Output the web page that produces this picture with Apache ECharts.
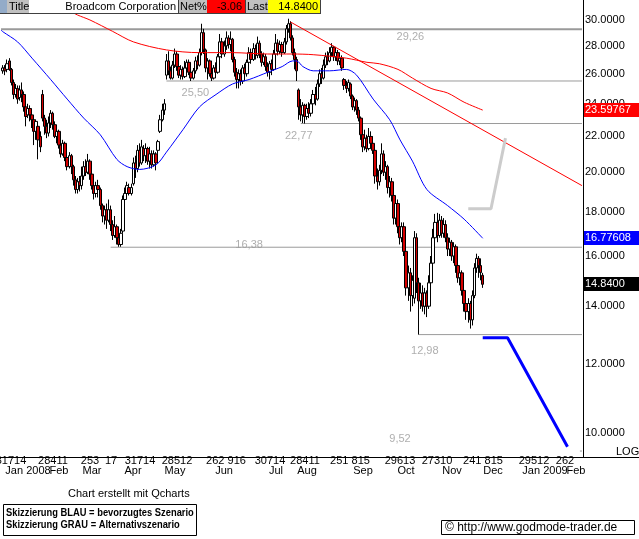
<!DOCTYPE html>
<html><head><meta charset="utf-8">
<script src="https://cdn.jsdelivr.net/npm/echarts@6/dist/echarts.min.js"></script>
<style>html,body{margin:0;padding:0;background:#fff}#c{width:639px;height:539px}</style>
</head><body><div id="c"></div>
<script>
// ---------------- DATA ----------------
const slotCount = 282;          // daily slots on the category axis (incl. future space)
const firstCandleSlot = 1;
// daily candles: [open, close, low, high]
const candles = [
[26.2,26.4,26.0,26.6],[26.4,26.2,25.9,26.6],[26.3,26.7,26.1,27.0],[26.9,26.3,26.2,27.1],[26.3,25.4,25.2,26.4],
[25.4,24.6,24.3,25.6],[24.6,25.0,24.4,25.3],[25.0,24.3,24.0,25.2],[24.4,24.9,24.2,25.2],[24.9,24.6,24.1,25.4],
[24.6,23.8,23.5,24.8],[23.8,23.2,22.6,23.9],[23.3,23.7,23.1,24.0],[23.7,23.3,22.9,23.9],[23.3,23.0,22.5,23.6],
[23.0,22.3,21.5,23.1],[22.3,22.9,21.8,23.0],[22.6,21.8,20.7,22.8],[22.0,21.4,21.1,22.3],[24.6,23.1,22.9,24.9],
[23.1,22.6,22.1,23.3],[22.6,22.2,21.9,23.0],[22.2,22.8,22.0,23.2],[22.8,23.4,22.5,23.6],[23.4,22.7,22.4,23.5],
[22.7,22.0,21.9,22.9],[22.0,22.3,21.6,22.5],[22.3,21.5,21.3,22.4],[21.5,21.0,20.8,21.8],[21.0,21.6,20.9,21.8],
[21.6,20.8,20.6,21.7],[20.8,20.3,20.1,21.0],[20.3,20.9,20.2,21.1],[20.9,20.3,19.9,21.0],[20.3,19.6,19.3,20.4],
[19.6,19.1,18.9,19.8],[19.1,19.5,18.9,19.7],[19.5,19.3,19.0,19.8],[19.3,19.8,19.1,20.3],[19.8,20.3,19.6,20.6],
[20.3,20.0,19.8,20.7],[20.0,20.6,19.9,21.0],[20.6,19.9,19.6,20.7],[19.9,19.3,19.1,20.0],[19.3,18.9,18.6,19.5],
[18.9,19.3,18.7,19.5],[19.3,19.1,18.7,19.6],[19.1,18.3,18.1,19.2],[18.3,17.8,17.5,18.4],[17.8,18.1,17.4,18.3],
[18.1,17.6,17.2,18.4],[17.6,18.1,17.5,18.6],[18.1,17.4,17.1,18.3],[17.4,16.9,16.7,17.6],[16.9,17.3,16.8,17.8],
[17.3,16.8,16.5,17.4],[16.8,16.5,16.4,16.9],[16.5,17.0,16.4,17.2],[17.1,18.6,17.0,18.8],[18.6,18.9,18.5,19.2],
[18.9,19.3,18.7,19.5],[19.2,18.9,18.8,19.4],[18.9,19.2,18.8,19.4],[19.4,20.5,19.3,20.8],[20.5,20.2,19.7,20.9],
[20.2,21.2,20.0,21.5],[21.2,20.5,20.3,21.6],[20.5,21.4,20.4,21.8],[21.3,20.9,20.6,21.5],[20.9,21.3,20.5,21.6],
[21.3,20.6,20.4,21.4],[20.6,21.0,20.2,21.4],[21.0,20.4,20.2,21.2],[20.4,21.0,20.3,21.2],[21.0,20.5,20.1,21.1],
[21.2,21.7,21.0,21.8],[22.3,23.0,22.2,23.3],[23.0,23.6,22.9,24.0],[23.6,24.0,23.3,24.3],
// slots 80-143: trading range below 29.26
[25.9,26.9,25.6,27.4],[26.9,26.2,25.9,27.6],[26.2,25.7,25.6,26.5],[25.7,26.6,25.6,26.9],[26.6,27.4,26.4,27.8],
[27.4,26.5,26.2,27.6],[26.5,25.9,25.7,26.7],[25.9,26.3,25.6,26.6],[26.3,25.8,25.6,26.5],[25.8,26.4,25.7,26.9],
[26.4,26.8,26.1,27.0],[26.8,26.1,25.9,27.0],[26.1,25.7,25.5,26.3],[25.7,26.2,25.6,26.4],[26.2,26.9,26.0,27.2],
[26.9,26.6,26.3,27.3],[26.6,27.5,26.5,27.8],[27.5,29.0,27.3,29.7],[29.0,27.7,27.4,29.3],[27.7,26.4,26.1,27.8],
[26.4,26.9,25.6,27.1],[26.9,26.0,25.8,27.0],[26.0,25.7,25.5,26.3],[25.7,26.4,25.6,26.6],[26.4,26.1,25.8,26.8],
[26.1,27.2,26.0,27.4],[27.2,28.3,27.0,28.9],[28.3,27.4,27.1,28.6],[27.4,28.0,27.2,28.4],[28.0,28.6,27.7,29.1],
[28.6,28.1,27.8,28.8],[28.1,28.5,27.6,29.1],[28.5,27.0,26.8,28.6],[27.0,26.1,25.8,27.2],[26.1,25.6,25.0,26.4],
[25.6,26.0,25.0,26.3],[26.0,25.5,25.2,26.3],[25.5,26.4,25.3,26.6],[26.4,26.0,25.7,26.7],[26.0,26.8,25.8,27.0],
[26.8,27.5,26.6,27.9],[27.5,27.0,26.7,27.8],[27.0,27.8,26.9,28.2],[27.8,27.3,27.0,28.1],[27.3,28.2,27.1,28.7],
[28.2,27.4,27.1,28.4],[27.4,26.8,26.5,27.6],[26.8,27.2,26.6,27.5],[27.2,26.5,26.2,27.4],[26.5,26.1,25.8,26.8],
[26.1,26.7,25.6,26.9],[26.7,26.3,25.9,27.0],[26.3,27.4,26.2,27.7],[27.4,28.2,27.2,28.9],[28.2,27.6,27.3,28.5],
[27.6,28.1,27.4,28.4],[28.1,27.5,27.2,28.3],[27.5,28.3,27.4,28.6],[28.3,29.3,28.1,29.6],[29.3,29.7,29.0,30.1],
[29.7,28.6,28.4,29.9],[28.6,27.5,27.3,28.8],[27.5,27.0,26.3,27.8],[27.0,26.2,25.5,27.2],
// slots 144-165: gap down, rebound to 28.2
[24.9,23.8,23.0,25.0],[23.8,23.3,22.9,24.3],[23.3,23.9,22.8,24.1],[23.9,23.2,22.77,24.0],[23.2,23.7,23.0,24.0],
[23.7,23.4,23.1,24.1],[23.4,24.0,23.2,24.3],[24.0,24.6,23.8,24.9],[24.6,24.3,23.9,25.1],[24.3,25.3,24.2,25.6],
[25.3,26.0,25.1,26.3],[26.0,25.7,25.3,26.4],[25.7,26.6,25.6,27.0],[26.6,27.2,26.4,27.5],[27.2,26.9,26.6,27.6],
[26.9,27.5,26.8,27.9],[27.5,27.9,27.2,28.2],[27.9,27.2,26.9,28.0],[27.2,27.5,26.9,27.8],[27.5,26.9,26.6,27.7],
[26.9,27.1,26.6,27.4],[27.1,26.4,26.2,27.3],
// slots 166-202: sell-off
[25.6,25.2,24.9,25.7],[25.2,25.0,24.7,25.5],[25.0,25.4,24.8,25.6],[25.3,24.5,24.3,25.4],[24.5,23.8,23.6,24.6],
[23.8,24.2,23.5,24.4],[24.2,23.6,23.3,24.3],[23.6,23.1,22.9,23.8],[23.1,22.1,21.8,23.2],[22.1,21.4,21.1,22.3],
[21.4,21.9,21.2,22.4],[21.9,21.3,21.1,22.1],[21.3,22.0,21.2,22.5],[22.0,21.6,21.3,22.3],[21.6,21.2,21.0,22.0],
[21.2,19.8,19.4,21.3],[19.8,19.5,19.1,20.2],[19.5,20.1,19.3,20.4],[20.1,21.0,19.9,21.6],[21.0,20.0,19.8,21.2],
[20.0,20.3,19.6,20.6],[20.3,19.2,18.9,20.4],[19.2,19.5,18.7,19.8],[19.5,18.8,18.5,19.7],[18.8,17.7,17.4,18.9],
[17.7,18.4,17.4,18.6],[18.4,17.3,17.0,18.6],[17.3,16.8,16.5,17.6],[16.8,17.3,16.6,17.5],[17.3,16.2,16.0,17.5],
[16.2,14.7,14.4,16.4],[14.7,15.3,14.2,15.6],[15.3,14.4,13.8,15.5],[14.4,15.0,14.0,15.2],[14.3,16.8,14.1,17.1],
[16.8,14.9,14.5,17.0],[14.9,14.2,12.98,15.1],
// slots 203-233: bottoming
[14.2,14.5,13.9,14.9],[14.5,14.0,13.8,14.8],[14.0,14.5,13.7,14.7],[14.5,14.0,13.6,14.6],[14.0,14.9,13.9,15.2],
[14.9,15.7,14.8,16.0],[15.7,16.8,15.5,17.2],[16.8,17.5,16.6,17.9],[17.5,16.9,16.6,17.95],[16.9,17.6,16.8,17.9],
[17.6,17.0,16.8,17.8],[17.0,17.4,16.8,17.7],[17.4,16.8,16.6,17.6],[16.8,16.3,16.0,17.0],[16.3,16.6,16.0,16.8],
[16.6,16.0,15.8,16.7],[16.0,16.4,15.7,16.6],[16.4,15.6,15.3,16.5],[15.6,15.1,14.9,15.8],[15.1,15.3,14.8,15.5],
[15.3,14.6,14.4,15.4],[14.6,14.1,13.8,14.8],[14.1,13.8,13.5,14.4],[13.8,14.1,13.4,14.3],[14.1,13.5,13.19,14.2],
[13.5,14.4,13.3,14.6],[14.4,15.5,14.3,15.7],[15.5,15.9,15.3,16.1],[15.9,15.6,15.1,16.0],[15.6,15.31,15.0,15.9],
[15.2,14.84,14.7,15.3]
];
// 50-day moving average (blue), [slot, value]
const ma50 = [[0,29.2],[1,29.06],[8,28.3],[15,27.1],[24,25.6],[32,24.3],[40,23.1],[48,22.1],[56,20.7],[61,20.3],
  [67,20.15],[75,20.4],[80,21.1],[88,22.4],[96,23.8],[104,24.6],[112,25.3],[120,25.6],[129,26.1],[136,26.5],
  [141,26.9],[143,26.9],[146,26.5],[151,26.2],[159,26.2],[167,26.3],[172,25.9],[180,24.3],[188,23.0],[193,21.8],
  [199,20.6],[206,19.1],[216,18.3],[224,17.65],[233,16.77608]];
// 200-day moving average (red), [slot, value]
const ma200 = [[30,31.0],[37,30.4],[43,30.0],[54,29.1],[64,28.3],[80,27.7],[96,27.5],[112,27.5],[129,27.4],[141,27.4],
  [151,27.35],[167,27.1],[177,26.8],[183,26.7],[192,26.3],[199,25.7],[208,25.0],[216,24.7],[224,24.1],[233,23.59767]];
// red down trend line
const trendLine = [[140,29.84],[281,19.3]];
// horizontal support / resistance levels
const levelValues = [29.26, 25.50, 22.77, 16.38, 12.98, 9.52];
const levelLabels = ['29,26','25,50','22,77','16,38','12,98','9,52'];
const levelStartSlots = [0, 80, 145, 53, 202, 280];
// scenario sketches
const blueScenario = [[233,12.87],[245,12.87],[274,9.63]];
const grayScenario = [[226,18.15],[237,18.15],[244,21.9]];
// right axis ticks
const priceTicks = [10,12,14,16,18,20,22,24,26,28,30];
// x axis tick labels (slot, text)
const dayLabelSlots = [5,25,43,53,67,85,109,130,147,169,193,211,233,258,273];
const dayLabelTexts = ['31714','28411','253','17','31714','28512','262 916','30714','28411','251 815','29613','27310','241 815','29512','262'];
const monthLabelSlots = [13,28,44,64,84,108,133,148,175,196,218,238,263,278];
const monthLabelTexts = ['Jan 2008','Feb','Mar','Apr','May','Jun','Jul','Aug','Sep','Oct','Nov','Dec','Jan 2009','Feb'];
// last values shown in boxes
const lastMa200 = 23.59767, lastMa50 = 16.77608, lastClose = 14.84;
const netPct = '-3.06';
const title = 'Broadcom Corporation';

// ---------------- CHART ----------------
const FONT = 'Liberation Sans, Arial, sans-serif';
const L = Math.log;
const slots = Array.from({length: slotCount}, (_, i) => String(i));
const lnPts = arr => arr.map(p => [p[0], L(p[1])]);

const chart = echarts.init(document.getElementById('c'), null, {renderer: 'canvas'});
const yMin = L(9.37), yMax = L(30.48);

const series = [];
series.push({
  type: 'candlestick', name: 'BRCM',
  data: candles.map((r, i) => [firstCandleSlot + i, L(r[0]), L(r[1]), L(r[2]), L(r[3])]),
  encode: {x: 0, y: [1, 2, 3, 4]},
  barWidth: 3,
  itemStyle: {color: '#ffffff', color0: '#d40000', borderColor: '#000000', borderColor0: '#000000', borderWidth: 1},
  z: 3
});
levelValues.forEach((v, i) => {
  series.push({
    type: 'line', data: [[levelStartSlots[i], L(v)], [slotCount - 1, L(v)]],
    symbol: 'none', silent: true,
    lineStyle: {color: '#9a9a9a', width: i === 0 ? 2 : 1}, z: 2
  });
});
// level labels
const levelLabelAnchors = [[198, 28.67], [94, 24.7], [144, 22.0], [120, 16.5], [205, 12.44], [193, 9.83]];
series.push({
  type: 'scatter', symbolSize: 0, silent: true,
  data: levelLabelAnchors.map((a, i) => ({value: [a[0], L(a[1])], label: {formatter: levelLabels[i]}})),
  label: {show: true, position: 'inside', color: '#9a9a9a', fontSize: 11, fontFamily: FONT},
  z: 2
});
series.push({type: 'line', data: lnPts(ma200), symbol: 'none', smooth: 0.3, lineStyle: {color: '#ff0000', width: 1}, z: 4});
series.push({type: 'line', data: lnPts(ma50), symbol: 'none', smooth: 0.3, lineStyle: {color: '#0000ff', width: 1}, z: 4});
series.push({type: 'line', data: lnPts(trendLine), symbol: 'none', lineStyle: {color: '#ff0000', width: 1}, z: 4});
series.push({type: 'line', data: lnPts(grayScenario), symbol: 'none', lineStyle: {color: '#cccccc', width: 3}, z: 4});
series.push({type: 'line', data: lnPts(blueScenario), symbol: 'none', lineStyle: {color: '#0000ff', width: 3}, z: 4});

chart.setOption({
  animation: false,
  backgroundColor: '#ffffff',
  grid: {left: 0, right: 56, top: 14, bottom: 82, containLabel: false},
  xAxis: {type: 'category', data: slots, boundaryGap: true, position: 'bottom',
     axisLine: {show: true, lineStyle: {color: '#000', width: 1}}, axisTick: {show: false}, splitLine: {show: false},
     axisLabel: {show: false}},
  yAxis: {
    type: 'value', position: 'right', min: yMin, max: yMax, scale: true,
    axisLine: {show: true, lineStyle: {color: '#000', width: 1}}, axisTick: {show: false}, splitLine: {show: false},
    axisLabel: {customValues: priceTicks.map(L), margin: 2, color: '#000', fontSize: 11, fontFamily: FONT,
      padding: [4, 0, 0, 0], formatter: v => Math.exp(v).toFixed(4)}
  },
  series: series
});

const xOf = s => chart.convertToPixel({xAxisIndex: 0}, s);
const yOf = v => chart.convertToPixel({yAxisIndex: 0}, L(v));
const txt = (x, y, text, opt, extra) => Object.assign({type: 'text', x: x, y: y, z: 100,
  style: Object.assign({text: text, font: '11px ' + FONT, fill: '#000', verticalAlign: 'middle'}, opt || {})}, extra || {});
const rect = (x, y, w, h, fill, opt) => Object.assign({type: 'rect', z: 99, shape: {x: x, y: y, width: w, height: h},
  style: {fill: fill}}, opt || {});
const line = (x1, y1, x2, y2, color) => ({type: 'line', z: 99, shape: {x1: x1, y1: y1, x2: x2, y2: y2},
  style: {stroke: color, lineWidth: 1}});

const graphic = [
  // header bar
  rect(0, 0, 7, 13, '#93abc8'),
  rect(7, 0, 22, 13, '#c0c0c0'),
  txt(9, 7, 'Title'),
  txt(176, 7, title, {align: 'right'}),
  rect(178, 0, 29, 13, '#c0c0c0'),
  txt(180, 7, 'Net%'),
  rect(207, 0, 38, 13, '#ff0000'),
  txt(242, 7, netPct, {align: 'right'}),
  rect(245, 0, 23, 13, '#c0c0c0'),
  txt(247, 7, 'Last'),
  rect(268, 0, 53, 13, '#ffff00'),
  txt(318, 7, lastClose.toFixed(4), {align: 'right'}),
  line(178.5, 0, 178.5, 13, '#404040'),
  line(245.5, 0, 245.5, 13, '#404040'),
  line(320.5, 0, 320.5, 13, '#404040'),
  line(0, 13.5, 321, 13.5, '#404040'),
  // axis extensions
  line(583.5, 0, 583.5, 14, '#000'),
  line(583, 457.5, 639, 457.5, '#000'),
  txt(616, 452, 'LOG'),
  // last value boxes
  rect(584, Math.round(yOf(lastMa200)) - 7, 55, 14, '#ff0000'),
  txt(585, Math.round(yOf(lastMa200)), lastMa200.toFixed(5), {fill: '#fff'}),
  rect(584, Math.round(yOf(lastMa50)) - 7, 55, 14, '#0000ff'),
  txt(585, Math.round(yOf(lastMa50)), lastMa50.toFixed(5), {fill: '#fff'}),
  rect(584, Math.round(yOf(lastClose)) - 7, 55, 14, '#000000'),
  txt(585, Math.round(yOf(lastClose)), lastClose.toFixed(4), {fill: '#fff'}),
  // footer
  txt(68, 494, 'Chart erstellt mit Qcharts'),
  {type: 'rect', z: 99, shape: {x: 3.5, y: 504.5, width: 193, height: 31}, style: {fill: '#fff', stroke: '#000', lineWidth: 1}},
  txt(6, 513, 'Skizzierung BLAU = bevorzugtes Szenario', {font: 'bold 11px ' + FONT}, {scaleX: 0.85}),
  txt(6, 525, 'Skizzierung GRAU = Alternativszenario', {font: 'bold 11px ' + FONT}, {scaleX: 0.85}),
  {type: 'rect', z: 99, shape: {x: 441.5, y: 520.5, width: 193, height: 14}, style: {fill: '#fff', stroke: '#000', lineWidth: 1}},
  txt(445, 528, '\u00A9 http://www.godmode-trader.de', {font: '12px ' + FONT})
];
// x axis tick labels placed through the category scale
dayLabelSlots.forEach((s, i) => graphic.push(txt(Math.round(xOf(s)), 461, dayLabelTexts[i], {align: 'center'})));
monthLabelSlots.forEach((s, i) => graphic.push(txt(Math.round(xOf(s)), 471, monthLabelTexts[i], {align: 'center'})));
chart.setOption({graphic: graphic});
</script>
</body></html>
